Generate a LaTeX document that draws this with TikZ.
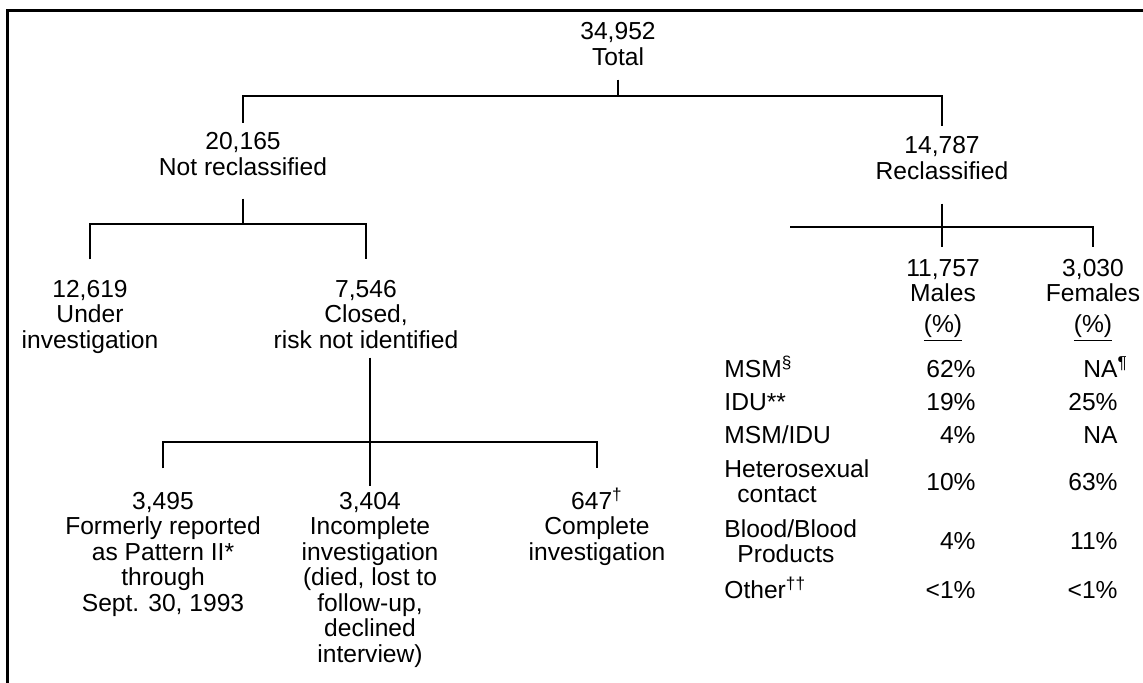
\documentclass[tikz,border=0pt]{standalone}
\usepackage{fontspec}
\setmainfont{Liberation Sans}
\usetikzlibrary{arrows,shapes}
\newcommand\chartfont{\fontsize{12.3}{12.75}\selectfont}
\tikzstyle{tally}=[anchor=base,align=center,inner sep=0pt,font=\chartfont]
\tikzstyle{riskname}=[anchor=base west,align=left,inner sep=0pt,font=\chartfont]
\tikzstyle{pct}=[anchor=base east,inner sep=0pt,font=\chartfont]
\tikzstyle{thinedge}=[draw,line width=0.9pt]
\tikzstyle{thickedge}=[draw,line width=1.4pt]
\tikzstyle{border}=[draw,line width=1.5pt]

\begin{document}
\begin{tikzpicture}[x=0.5pt,y=-0.5pt]
    \useasboundingbox (0,0) rectangle (1143,682);
    % Frame along the top and left
    \path[border] (1145,10.5) -- (7,10.5) -- (7,684);
    % The tree of counts (placed by the baseline of the last line)
    \node[tally] (total) at (618,65) {34,952\\Total};
    \node[tally] (nrc) at (243,175) {20,165\\Not reclassified};
    \node[tally] (rc) at (942,179) {14,787\\Reclassified};
    \node[tally] (ui) at (90,348) {12,619\\Under\\investigation};
    \node[tally] (cr) at (366,348) {7,546\\Closed,\\risk not identified};
    \node[tally] (fr) at (163,611) {3,495\\Formerly reported\\as Pattern II*\\through\\Sept. 30, 1993};
    \node[tally] (ic) at (370,662) {3,404\\Incomplete\\investigation\\(died, lost to\\follow-up,\\declined\\interview)};
    \node[tally] (cp) at (597,560) {647\textsuperscript{†}\\Complete\\investigation};
    \node[tally] (males) at (943,332) {11,757\\Males\\[2.3pt]\underline{(\%)}};
    \node[tally] (females) at (1093,332) {3,030\\Females\\[2.3pt]\underline{(\%)}};
    % Junctions of the bars
    \coordinate (j0) at (618,96);
    \coordinate (j1) at (243,224);
    \coordinate (j2) at (370,442);
    \coordinate (bar) at (790,227);
    % Connect the counts
    \path[thinedge] ([yshift=-7pt]total.south) -- (j0);
    \path[thinedge] ([yshift=4.5pt]nrc.north) |- (j0) -| ([yshift=5pt]rc.north);
    \path[thickedge] ([yshift=-11.5pt]nrc.south) -- (j1);
    \path[thickedge] ([yshift=10pt]ui.north) |- (j1) -| ([yshift=10pt]cr.north);
    \path[thickedge] ([yshift=-12pt]rc.south) -- ([yshift=6pt]rc.south |- males.north);
    \path[thickedge] (bar) -| ([yshift=6pt]females.north);
    \path[thickedge] ([yshift=-4.5pt]ic.north |- cr.south) -- ([yshift=2.5pt]ic.north);
    \path[thickedge] ([yshift=11.5pt]fr.north) |- (j2) -| ([yshift=11.5pt]fr.north -| cp.north);
    % Risk groups of the reclassified cases
    \node[riskname] (msm) at (724,377) {MSM\textsuperscript{§}};
    \node[riskname] (idu) at (724,410) {IDU**};
    \node[riskname] (msmidu) at (724,443) {MSM/IDU};
    \node[riskname] (het) at (724,502.5) {Heterosexual\\\hspace{6.5pt}contact};
    \node[riskname] (blood) at (724,562.5) {Blood/Blood\\\hspace{6.5pt}Products};
    \node[riskname] (other) at (724,598) {Other\textsuperscript{††}};
    \foreach \y/\m/\f [count=\i] in {377/62\%/NA\rlap{\textsuperscript{¶}}, 410/19\%/25\%, 443/4\%/NA, 490/10\%/63\%, 549/4\%/11\%, 598/<1\%/<1\%}
    {
        \node[pct] (m\i) at (976,\y) {\m};
        \node[pct] (f\i) at (1118,\y) {\f};
    }
\end{tikzpicture}
\end{document}
